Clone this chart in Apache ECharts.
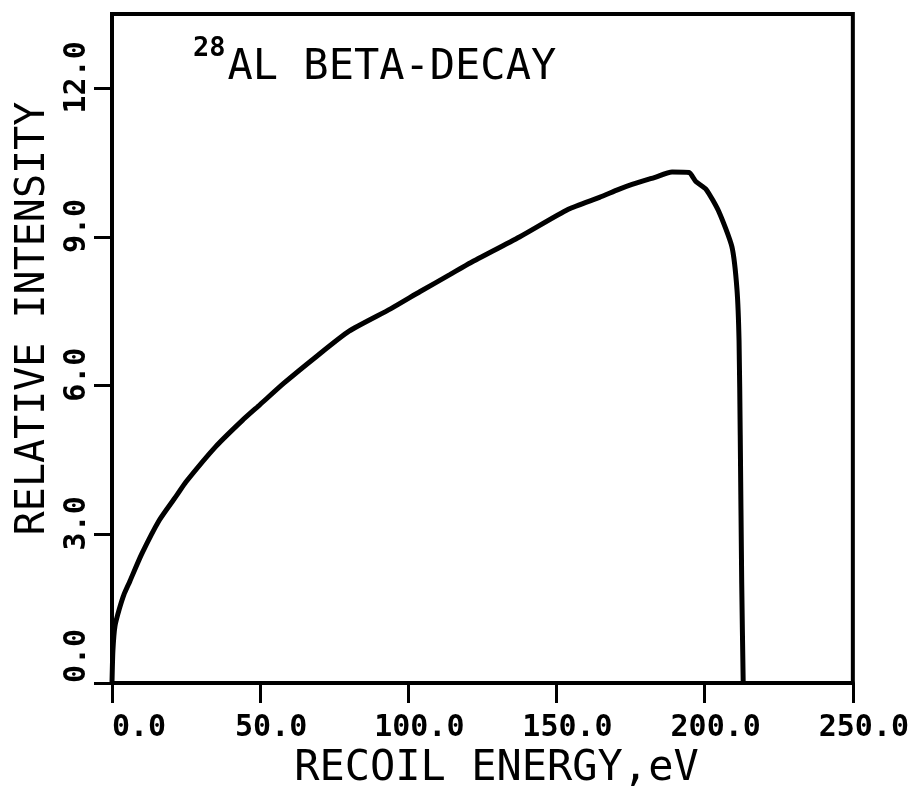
<!DOCTYPE html>
<html>
<head>
<meta charset="utf-8">
<script src="https://cdn.jsdelivr.net/npm/echarts@6/dist/echarts.min.js"></script>
<style>html,body{margin:0;padding:0;background:#fff;}#c{width:912px;height:796px;}</style>
</head>
<body>
<div id="c"></div>
<script>
// Recoil energy (eV) and relative intensity
const energy = [0, 0.3, 1, 2.5, 4, 6, 10, 16, 22, 25, 35, 44, 50, 58, 69, 80, 94, 104, 114, 121, 137.5, 154, 164.5, 171, 175.5, 183, 189, 194.7, 197, 200.5, 204.8, 209.2, 210.9, 211.6, 212, 212.5, 213];
const intensity = [0, 0.65, 1.15, 1.5, 1.78, 2.05, 2.6, 3.29, 3.8, 4.06, 4.77, 5.3, 5.62, 6.05, 6.59, 7.1, 7.55, 7.9, 8.24, 8.48, 9.0, 9.56, 9.8, 9.96, 10.06, 10.2, 10.31, 10.3, 10.12, 9.96, 9.51, 8.8, 7.94, 6.9, 5.0, 2.0, 0];
const xTicks = [0, 50, 100, 150, 200, 250];
const yTicks = [0, 3, 6, 9, 12];
const titleSup = '28';
const titleMain = 'AL BETA-DECAY';
const xName = 'RECOIL ENERGY,eV';
const yName = 'RELATIVE INTENSITY';

const points = energy.map((e, i) => [e, intensity[i]]);
const mono = 'DejaVu Sans Mono';
const labelFmt = v => v === 0 ? '{z|' + v.toFixed(1) + '}' : '{n|' + v.toFixed(1) + '}';
const labelRich = {
  z: { fontFamily: mono, fontWeight: 'bold', fontSize: 30, color: '#000', padding: [0, 0, 0, 54] },
  n: { fontFamily: mono, fontWeight: 'bold', fontSize: 30, color: '#000', padding: [0, 0, 0, 22] }
};

const chart = echarts.init(document.getElementById('c'), null, { renderer: 'canvas' });
chart.setOption({
  animation: false,
  backgroundColor: '#fff',
  title: {
    text: '{sup|' + titleSup + '}{main|' + titleMain + '}',
    left: 188, top: 30,
    textStyle: {
      fontWeight: 'normal',
      rich: {
        sup: { fontFamily: mono, fontWeight: 'bold', fontSize: 27, color: '#000', padding: [0, 2, 28, 0] },
        main: { fontFamily: mono, fontWeight: 'normal', fontSize: 42, color: '#000', padding: [12, 0, 0, 0] }
      }
    }
  },
  grid: {
    left: 112, right: 59, top: 14, bottom: 113,
    show: true, borderColor: '#000', borderWidth: 4, backgroundColor: 'transparent'
  },
  xAxis: {
    type: 'value', min: 0, max: 250,
    name: xName, nameLocation: 'middle', nameGap: 58,
    nameTextStyle: { fontFamily: mono, fontSize: 42, color: '#000', padding: [0, 0, 0, 28] },
    axisLine: { show: true, lineStyle: { color: '#000', width: 4 } },
    axisTick: { show: true, inside: false, length: 20, customValues: xTicks, lineStyle: { color: '#000', width: 3 } },
    axisLabel: { customValues: xTicks, margin: 30, formatter: labelFmt, rich: labelRich },
    splitLine: { show: false }
  },
  yAxis: {
    type: 'value', min: 0, max: 13.5,
    name: yName, nameLocation: 'middle', nameGap: 58, nameRotate: 90,
    nameTextStyle: { fontFamily: mono, fontSize: 40, color: '#000', padding: [0, 0, 0, 60] },
    axisLine: { show: true, lineStyle: { color: '#000', width: 4 } },
    axisTick: { show: true, inside: false, length: 18, customValues: yTicks, lineStyle: { color: '#000', width: 3 } },
    axisLabel: { customValues: yTicks, rotate: 90, margin: 20, formatter: labelFmt, rich: labelRich },
    splitLine: { show: false }
  },
  series: [{
    type: 'line',
    data: points,
    showSymbol: false,
    smooth: 0.2,
    lineStyle: { color: '#000', width: 5 },
    clip: true
  }]
});
</script>
</body>
</html>
